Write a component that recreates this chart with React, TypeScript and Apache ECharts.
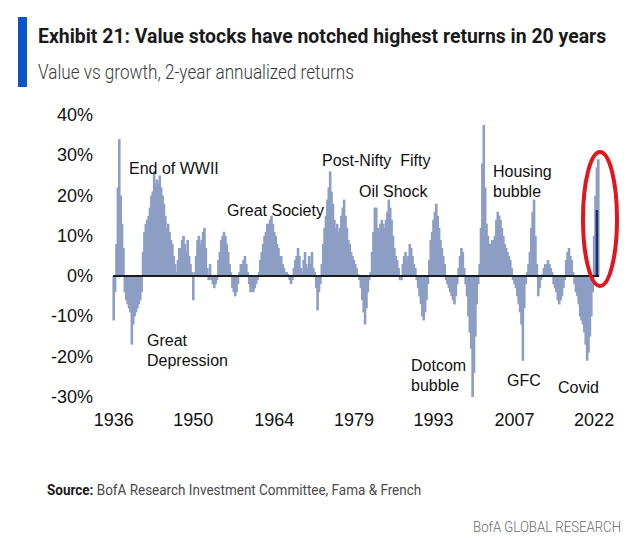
import React, { useEffect, useRef } from "react";
import * as echarts from "echarts";

// Value vs growth, 2-year annualized returns (%), quarterly readings from the picture
const v1936to1939 = [
  -11, -4, 8, 22,
  34, 20, 13, 7,
  -4, -6, -7, -8,
  -9, -17, -12, -10,
];
const v1940s = [
  -9, -8, -7, -6,
  -4, 6, 11, 13,
  14, 15, 17, 20,
  21, 26, 23, 24,
  23, 25, 22, 20,
  18, 15, 12, 13,
  11, 9, 8, 5,
  3, 1, 4, 7,
  7, 9, 10, 8,
  6, 9, 5, 3,
];
const v1950s = [
  1, -6, 1, 5,
  9, 10, 8, 9,
  11, 12, 7, 2,
  -1, 3, -1, -2,
  -3, -2, -1, 4,
  6, 9, 10, 11,
  10, 8, 6, 3,
  1, -3, -4, -5,
  -4, -2, 1, 3,
  3, 4, 5, 3,
];
const v1960s = [
  1, -2, -4, -3,
  -4, -3, -2, -1,
  1, 4, 6, 8,
  10, 11, 13, 13,
  14, 15, 13, 11,
  10, 8, 7, 5,
  5, 3, 2, 1,
  1, 0.5, -1, -2,
  -1, 2, 4, 5,
  7, 5, 2, 1,
];
const v1970s = [
  4, 6, 3, 2,
  5, 3, 6, 2,
  1, -3, -8.5, -4,
  -2, 3, 8, 12,
  15, 19, 22, 26,
  21, 18, 14, 12,
  13, 11, 12, 15,
  17, 19, 15, 12,
  9, 8, 6, 5,
  4, 3, 2, 0.5,
];
const v1980s = [
  -1, -3, -6, -9,
  -12, -8, -4, -1,
  1, 6, 11, 17,
  17, 12, 11, 13,
  14, 13, 12, 14,
  16, 19, 17, 14,
  10, 7, 5, 4,
  2, -1, -1, 3,
  5, 6, 4, 5,
  8, 7, 5, 3,
];
const v1990s = [
  2, -1, -3, -5,
  -7, -10, -11, -9,
  -6, -2, 4, 9,
  11, 14, 16, 18,
  15, 12, 9, 7,
  5, 3, -1, -2,
  -3, -4, -5, -6,
  -7, -5, -2, 2,
  5, 7, 6, 2,
  -2, -5, -10, -14,
];
const v2000s = [
  -18, -30, -24, -15,
  -7, -2, 3, 12,
  28, 37.5, 22, 13,
  10, 8, 8, 9,
  9, 10, 14, 16,
  15, 14, 12, 10,
  8, 7, 6, 5,
  4, 2, -1, -2,
  -3, -5, -7, -9,
  -12, -21, -8, -2,
];
const v2010s = [
  1, 3, 6, 12,
  16, 19, 10, 3,
  -5, -3, -1, 0.5,
  2, 3, 3, 4,
  3, 2, 1, -2,
  -3, -4, -6, -7,
  -6, -5, -3, -1,
  4, 6, 7, 5,
  4, 1, -2, -4,
  -5, -7, -10, -11,
];
const v2020s = [
  -12, -14, -17, -21,
  -19, -15, -10, -4,
  10, 20, 27, 29,
];

// Latest reading, highlighted in dark blue
const latestQuarter = "2022 Q3";
const latestValue = 16.4;

const startYear = 1936;
const xTickLabels = ["1936", "1950", "1964", "1979", "1993", "2007", "2022"];
const monthsBetweenTicks = 172;
const yTickMin = -30;
const yTickMax = 40;
const yTickStep = 10;

const annotations = [
  { text: "End of WWII", x: 129, y: 168 },
  { text: "Great\nDepression", x: 147, y: 350 },
  { text: "Great Society", x: 227, y: 210 },
  { text: "Post-Nifty  Fifty", x: 322, y: 160 },
  { text: "Oil Shock", x: 359, y: 191 },
  { text: "Dotcom\nbubble", x: 411, y: 375 },
  { text: "Housing\nbubble", x: 493, y: 181 },
  { text: "GFC", x: 507, y: 380 },
  { text: "Covid", x: 558, y: 387 },
];

export default function App() {
  const ref = useRef<HTMLDivElement>(null);

  useEffect(() => {
    if (!ref.current) return;
    const chart = echarts.init(ref.current, null, { renderer: "svg" });

    const values = [
      ...v1936to1939,
      ...v1940s,
      ...v1950s,
      ...v1960s,
      ...v1970s,
      ...v1980s,
      ...v1990s,
      ...v2000s,
      ...v2010s,
      ...v2020s,
    ];
    const categories = values.map(
      (_, i) => `${startYear + Math.floor(i / 4)} Q${(i % 4) + 1}`
    );
    const latest = categories.map((c) => (c === latestQuarter ? latestValue : "-"));
    const tickIdx = xTickLabels.map((_, k) =>
      Math.round((k * monthsBetweenTicks) / 3)
    );

    const axisFont = "Liberation Sans, Arial, sans-serif";
    const barColor = "#8d9ec4";

    chart.setOption({
      animation: false,
      backgroundColor: "#ffffff",
      grid: { left: 113, right: 41, top: 115, bottom: 158, containLabel: false },
      xAxis: [
        {
          type: "category",
          data: categories,
          boundaryGap: true,
          axisLine: { show: false },
          axisTick: { show: false },
          splitLine: { show: false },
          axisLabel: {
            interval: (index: number) => tickIdx.indexOf(index) >= 0,
            formatter: (_v: string, index: number) =>
              xTickLabels[tickIdx.indexOf(index)] ?? "",
            margin: 14,
            fontSize: 18,
            fontFamily: axisFont,
            color: "#111111",
          },
        },
        {
          type: "category",
          data: categories,
          show: false,
          boundaryGap: true,
        },
      ],
      yAxis: {
        type: "value",
        min: yTickMin,
        max: yTickMax,
        interval: yTickStep,
        axisLine: { show: false },
        axisTick: { show: false },
        splitLine: { show: false },
        axisLabel: {
          formatter: "{value}%",
          margin: 20,
          fontSize: 18,
          fontFamily: axisFont,
          color: "#111111",
        },
      },
      series: [
        {
          type: "custom",
          xAxisIndex: 0,
          data: values.map((v, i) => [i, v]),
          encode: { x: 0, y: 1 },
          z: 2,
          renderItem: (_params: any, api: any) => {
            const idx = api.value(0);
            const v = api.value(1);
            const base = api.coord([idx, 0]);
            const top = api.coord([idx, v]);
            const w = api.size([1, 0])[0];
            return {
              type: "rect",
              shape: {
                x: base[0] - w / 2 - 0.6,
                y: Math.min(base[1], top[1]),
                width: w + 1.2,
                height: Math.abs(top[1] - base[1]),
              },
              style: { fill: barColor },
            };
          },
        },
        {
          type: "bar",
          data: latest,
          xAxisIndex: 1,
          barWidth: 2.5,
          itemStyle: { color: "#1d2b72" },
          z: 4,
          markLine: {
            silent: true,
            symbol: "none",
            label: { show: false },
            lineStyle: { color: "#1b1b1b", width: 2, type: "solid" },
            data: [{ yAxis: 0 }],
            z: 5,
          },
        },
      ],
      graphic: [
        {
          type: "rect",
          shape: { x: 18, y: 17, width: 9, height: 70 },
          style: { fill: "#0b55c8" },
        },
        {
          type: "text",
          x: 38,
          y: 36,
          scaleX: 0.925,
          style: {
            text: "Exhibit 21: Value stocks have notched highest returns in 20 years",
            font: "bold 21px Roboto, sans-serif",
            fill: "#1a1a1a",
            textVerticalAlign: "middle",
          },
        },
        {
          type: "text",
          x: 38,
          y: 72,
          scaleX: 0.88,
          style: {
            text: "Value vs growth, 2-year annualized returns",
            font: "300 19.5px Roboto, sans-serif",
            fill: "#3a3a3a",
            textVerticalAlign: "middle",
          },
        },
        ...annotations.map((a) => ({
          type: "text",
          x: a.x,
          y: a.y,
          style: {
            text: a.text,
            font: "16px 'Liberation Sans', Arial, sans-serif",
            fill: "#111111",
            lineHeight: 20,
            textVerticalAlign: "middle",
          },
          z: 10,
        })),
        {
          type: "ellipse",
          shape: { cx: 600, cy: 219, rx: 17, ry: 67 },
          style: { fill: "none", stroke: "#e3141b", lineWidth: 4 },
          z: 20,
        },
        {
          type: "text",
          x: 47,
          y: 490,
          scaleX: 0.9,
          style: {
            text: "{b|Source:} BofA Research Investment Committee, Fama & French",
            font: "15px Roboto, sans-serif",
            fill: "#4a4a4a",
            textVerticalAlign: "middle",
            rich: {
              b: { font: "bold 15px Roboto, sans-serif", fill: "#1a1a1a" },
            },
          },
        },
        {
          type: "text",
          x: 621,
          y: 527,
          scaleX: 0.88,
          style: {
            text: "BofA GLOBAL RESEARCH",
            font: "300 15px Roboto, sans-serif",
            fill: "#6a6a6a",
            textAlign: "right",
            textVerticalAlign: "middle",
          },
        },
      ],
    });

    return () => chart.dispose();
  }, []);

  return (
    <div
      ref={ref}
      style={{ position: "fixed", left: 0, top: 0, width: 640, height: 555, background: "#fff" }}
    />
  );
}
